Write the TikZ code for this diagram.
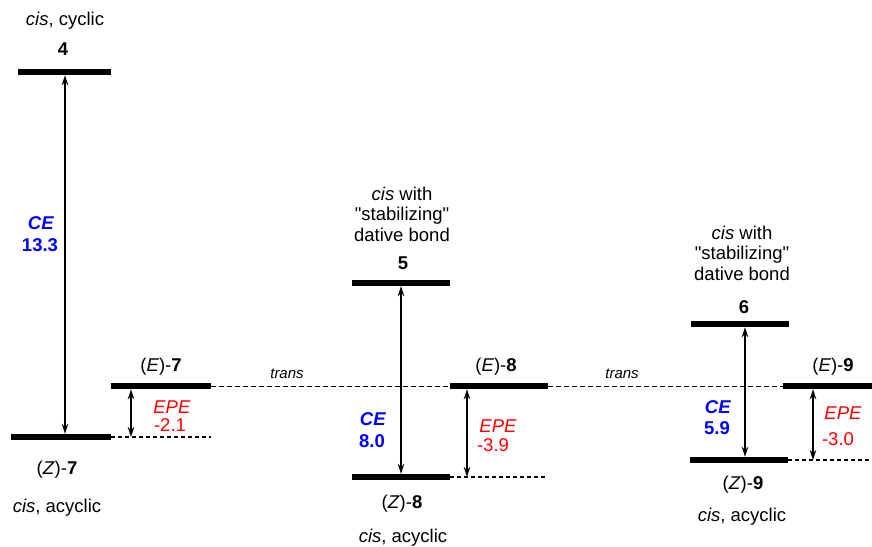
\documentclass[tikz,border=0pt]{standalone}
\usepackage{fontspec}
\setmainfont{Liberation Sans}[Ligatures=TeXOff]
\usetikzlibrary{arrows.meta}
\definecolor{ceblue}{RGB}{0,0,255}
\definecolor{epered}{RGB}{255,0,0}
\tikzset{
  lvl/.style={fill=black, draw=none, inner sep=0pt, minimum height=6pt, minimum width=98pt},
  lbl/.style={font=\fontsize{18.5}{20.5}\selectfont, inner sep=0pt, align=center},
  translbl/.style={font=\fontsize{15}{17}\selectfont\itshape, inner sep=0pt},
  celbl/.style={lbl, text=ceblue, font=\fontsize{18.5}{20.5}\selectfont\bfseries},
  epelbl/.style={lbl, text=epered},
  dblarrow/.style={line width=1.8pt, {Stealth[length=10pt,width=6.5pt]}-{Stealth[length=10pt,width=6.5pt]}},
  transline/.style={line width=0.8pt, dash pattern=on 4.5pt off 3.5pt},
  lowline/.style={line width=1.5pt, dash pattern=on 4pt off 3pt},
}
\begin{document}
\begin{tikzpicture}[x=1pt,y=-1pt]
\useasboundingbox (0,0) rectangle (872,546);
% levels
\node[lvl, minimum width=93pt] (b4) at (64.5,72) {};
\node[lvl, minimum width=100pt] (z7) at (61,437) {};
\node[lvl, minimum width=100pt] (e7) at (161,386) {};
\node[lvl] (b5) at (401,283) {};
\node[lvl] (z8) at (401,477) {};
\node[lvl] (e8) at (499,386) {};
\node[lvl] (b6) at (740,324) {};
\node[lvl] (z9) at (739,460) {};
\node[lvl, minimum width=89pt] (e9) at (827.5,386) {};
% dashed guides
\coordinate (z7end) at (211,437);
\coordinate (z8end) at (548,477);
\coordinate (z9end) at (872,460);
\draw[lowline] (z7.east) -- (z7end);
\draw[lowline] (z8.east) -- (z8end);
\draw[lowline] (z9.east) -- (z9end);
\draw[transline] (e7.east) -- (e8.west);
\draw[transline] (e8.east) -- (e9.west);
\node[translbl] (tr1) at (287,374) {trans};
\node[translbl] (tr2) at (622,374) {trans};
% arrows
\coordinate (x7) at (131,0);
\coordinate (x8) at (467,0);
\coordinate (x9) at (813,0);
\draw[dblarrow] ([xshift=0.5pt]b4.south) -- ([xshift=0.5pt]b4.south |- z7.north);
\draw[dblarrow] (e7.south -| x7) -- (z7end -| x7);
\draw[dblarrow] (b5.south) -- (b5.south |- z8.north);
\draw[dblarrow] (e8.south -| x8) -- (z8end -| x8);
\draw[dblarrow] ([xshift=5pt]b6.south) -- ([xshift=5pt]b6.south |- z9.north);
\draw[dblarrow] (e9.south -| x9) -- (z9end -| x9);
% labels: compound 4 / 7
\node[lbl] (t4a) at (65,21) {\textit{cis}, cyclic};
\node[lbl] (t4) at (63,49) {\textbf{4}};
\node[celbl] (ce4) at (41,223) {\textit{CE}};
\node[celbl] (ce4v) at (40,245) {13.3};
\node[lbl] (te7) at (161,367) {(\textit{E})-\textbf{7}};
\node[epelbl] (epe7) at (172,407) {\textit{EPE}};
\node[epelbl] (epe7v) at (170,425) {-2.1};
\node[lbl] (tz7) at (57,470) {(\textit{Z})-\textbf{7}};
\node[lbl] (tz7b) at (57,508) {\textit{cis}, acyclic};
% compound 5 / 8
\node[lbl] (t5a) at (402,214) {\textit{cis} with\\"stabilizing"\\dative bond};
\node[lbl] (t5) at (403,263) {\textbf{5}};
\node[celbl] (ce8) at (373,419) {\textit{CE}};
\node[celbl] (ce8v) at (372,441) {8.0};
\node[lbl] (te8) at (496,367) {(\textit{E})-\textbf{8}};
\node[epelbl] (epe8) at (498,426) {\textit{EPE}};
\node[epelbl] (epe8v) at (493,445) {-3.9};
\node[lbl] (tz8) at (402,504) {(\textit{Z})-\textbf{8}};
\node[lbl] (tz8b) at (403,538) {\textit{cis}, acyclic};
% compound 6 / 9
\node[lbl] (t6a) at (742,253) {\textit{cis} with\\"stabilizing"\\dative bond};
\node[lbl] (t6) at (744,307) {\textbf{6}};
\node[celbl] (ce9) at (718,407) {\textit{CE}};
\node[celbl] (ce9v) at (717,428) {5.9};
\node[lbl] (te9) at (833,367) {(\textit{E})-\textbf{9}};
\node[epelbl] (epe9) at (843,413) {\textit{EPE}};
\node[epelbl] (epe9v) at (838,439) {-3.0};
\node[lbl] (tz9) at (743,485) {(\textit{Z})-\textbf{9}};
\node[lbl] (tz9b) at (742,517) {\textit{cis}, acyclic};
\end{tikzpicture}
\end{document}
